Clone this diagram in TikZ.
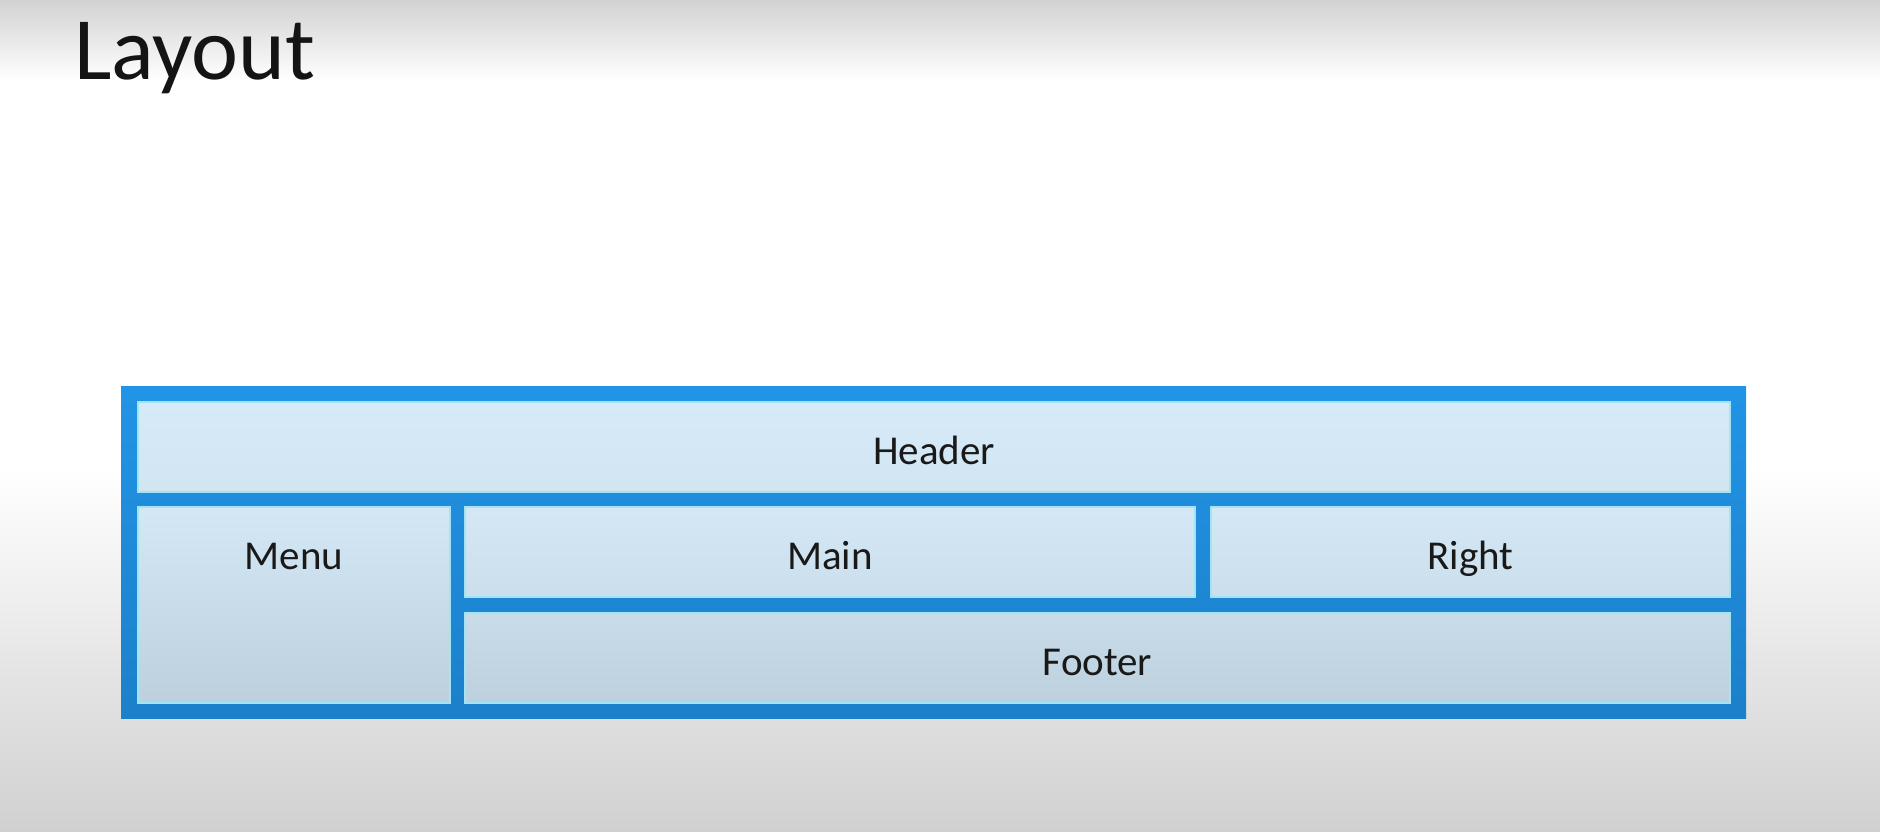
\documentclass[tikz,border=0pt]{standalone}
\usepackage{fontspec}
\setmainfont{Carlito}
\definecolor{bluetop}{RGB}{34,148,230}
\definecolor{bluebot}{RGB}{28,128,202}
\definecolor{cellA}{RGB}{214,235,247}
\definecolor{cellB}{RGB}{188,209,221}
\definecolor{edgec}{RGB}{160,228,246}
\definecolor{bgtop}{RGB}{210,210,210}
\definecolor{bgbot}{RGB}{208,208,208}
\tikzset{
  cellbox/.style={rectangle, draw=edgec, line width=1.2pt, inner sep=0pt,
    font=\fontsize{41}{41}\selectfont, text=black!90,
    text height=34pt, text depth=0pt},
  lbl/.style={inner sep=0pt, font=\fontsize{41}{41}\selectfont, text=black!90,
    text height=34pt, text depth=0pt},
}
\begin{document}
\begin{tikzpicture}[x=1pt,y=-1pt]
\useasboundingbox (0,0) rectangle (1880,832);
% background
\fill[white] (0,0) rectangle (1880,832);
\shade[top color=bgtop, bottom color=white] (0,0) rectangle (1880,80);
\shade[top color=white, bottom color=bgbot] (0,470) rectangle (1880,832);
% title
\node[anchor=base west, inner sep=0pt, font=\fontsize{89}{89}\selectfont, text=black!92] (title) at (74,80) {Layout};
% outer frame
\node[rectangle, inner sep=0pt, minimum width=1625pt, minimum height=332pt,
  top color=bluetop, bottom color=bluebot] (frame) at (933.5,552) {};
% cells
\node[cellbox, minimum width=1592pt, minimum height=90pt,
  top color=cellA, bottom color=cellB!20!cellA] (header) at (934,447) {Header};
\node[cellbox, minimum width=312pt, minimum height=196pt,
  top color=cellB!10!cellA, bottom color=cellB] (menu) at (294,605) {};
\node[lbl] (menulbl) at (294,552) {Menu};
\node[cellbox, minimum width=730pt, minimum height=90pt,
  top color=cellB!10!cellA, bottom color=cellB!45!cellA] (main) at (830,552) {Main};
\node[cellbox, minimum width=519pt, minimum height=90pt,
  top color=cellB!10!cellA, bottom color=cellB!45!cellA] (right) at (1470.5,552) {Right};
\node[cellbox, minimum width=1265pt, minimum height=90pt,
  top color=cellB!55!cellA, bottom color=cellB] (footer) at (1097.5,658) {Footer};
\end{tikzpicture}
\end{document}
